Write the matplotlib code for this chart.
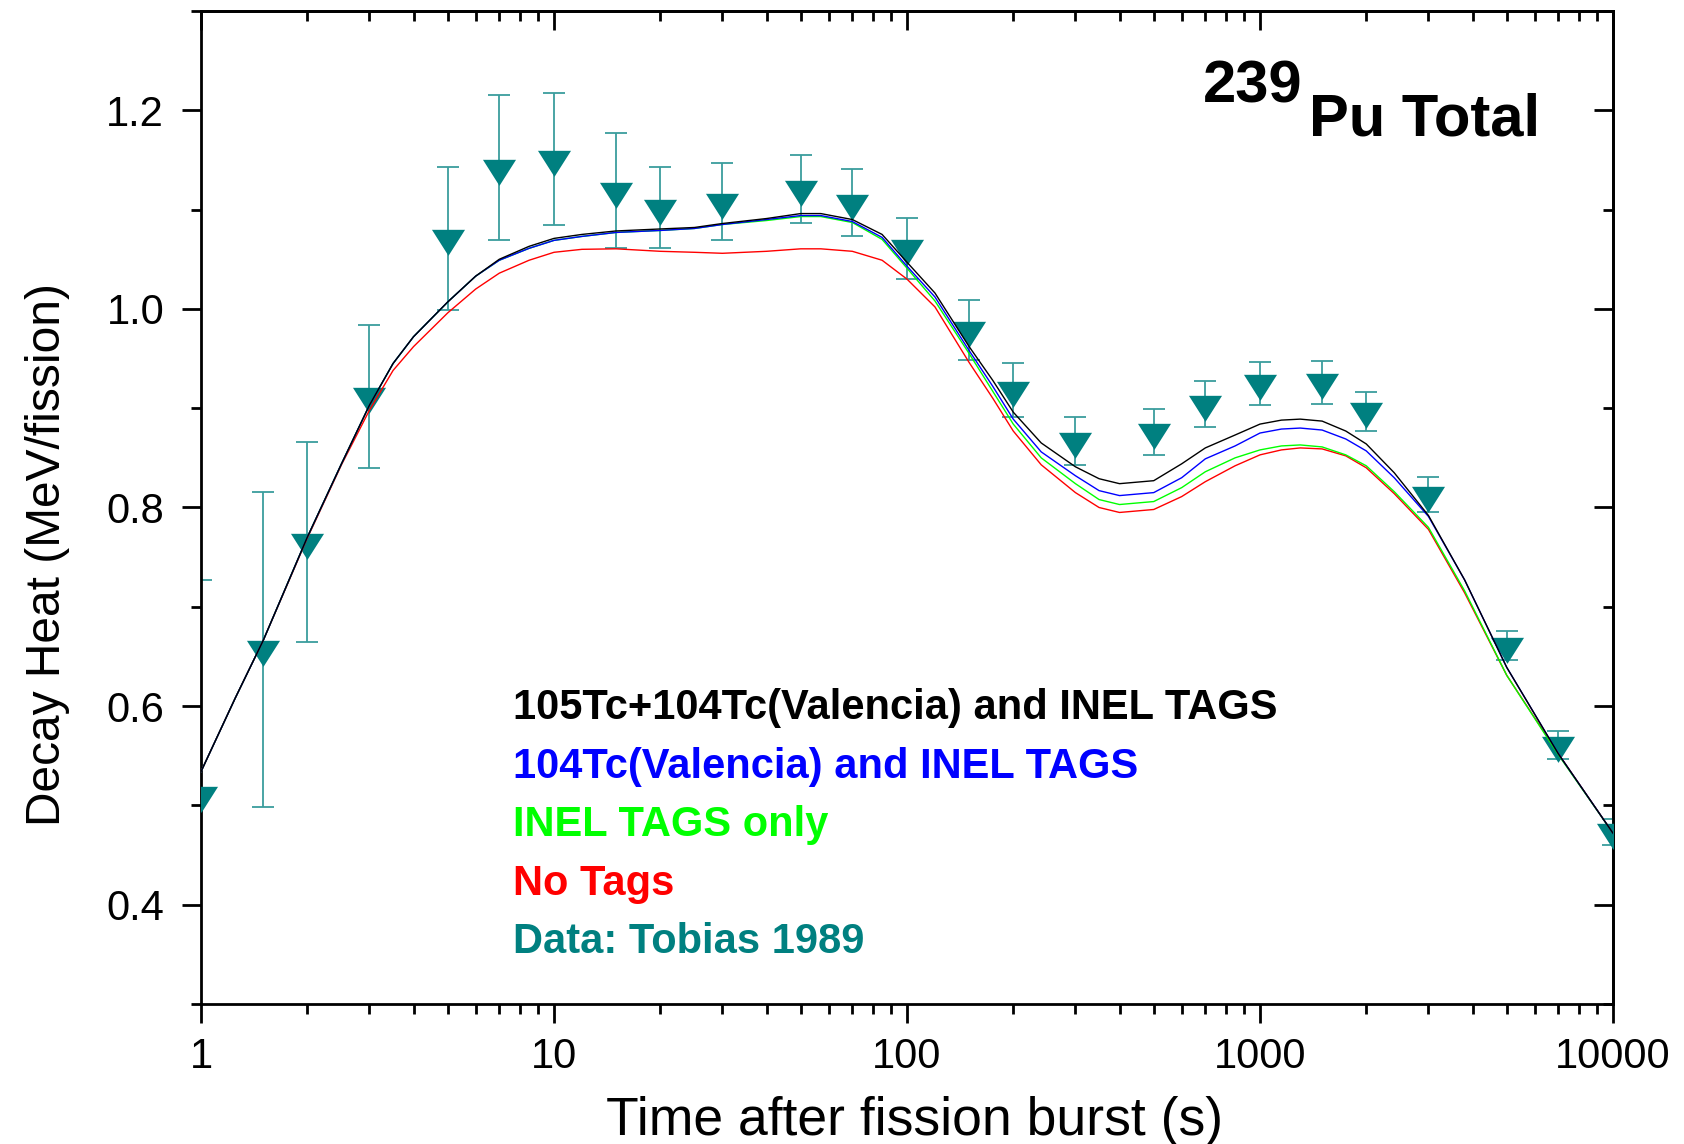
import numpy as np
import matplotlib
matplotlib.use("Agg")
import matplotlib.pyplot as plt
from matplotlib import ticker

plt.rcParams['font.family'] = ['Liberation Sans', 'DejaVu Sans']

# ---------------- data ----------------
t_data = [1, 1.5, 2, 3, 5, 7, 10, 15, 20, 30, 50, 70, 100, 150, 200, 300,
          500, 700, 1000, 1500, 2000, 3000, 5000, 7000, 10000]
heat_data = [0.5105, 0.657, 0.765, 0.912, 1.071, 1.142, 1.151, 1.119, 1.102,
             1.108, 1.121, 1.107, 1.061, 0.979, 0.9185, 0.867, 0.876, 0.904,
             0.925, 0.926, 0.897, 0.813, 0.661, 0.561, 0.473]
heat_err = [0.216, 0.159, 0.1005, 0.072, 0.072, 0.073, 0.0665, 0.058, 0.041,
            0.039, 0.034, 0.034, 0.031, 0.030, 0.027, 0.0245, 0.023, 0.023,
            0.022, 0.0217, 0.0198, 0.018, 0.0148, 0.0144, 0.0133]

t_curve = [1, 1.25, 1.5, 2, 2.5, 3, 3.5, 4, 5, 6, 7, 8.5, 10, 12, 15, 20, 25,
           30, 40, 50, 57, 70, 85, 100, 120, 150, 175, 200, 240, 300, 350, 400,
           500, 600, 700, 850, 1000, 1150, 1300, 1500, 1750, 2000, 2400, 3000,
           3800, 5000, 7000, 10000]
tc105_tc104_inel = [0.534, 0.608, 0.666, 0.770, 0.844, 0.903, 0.945, 0.972,
                    1.007, 1.033, 1.050, 1.063, 1.071, 1.075, 1.0785, 1.0805,
                    1.082, 1.086, 1.091, 1.096, 1.096, 1.090, 1.075, 1.047,
                    1.016, 0.962, 0.928, 0.896, 0.865, 0.841, 0.829, 0.824,
                    0.827, 0.844, 0.860, 0.873, 0.884, 0.888, 0.889, 0.887,
                    0.877, 0.864, 0.835, 0.792, 0.727, 0.639, 0.552, 0.472]
tc104_inel = [0.534, 0.608, 0.666, 0.770, 0.844, 0.903, 0.945, 0.972, 1.007,
              1.033, 1.049, 1.061, 1.069, 1.073, 1.077, 1.079, 1.081, 1.085,
              1.090, 1.094, 1.094, 1.088, 1.072, 1.043, 1.012, 0.958, 0.922,
              0.889, 0.856, 0.832, 0.817, 0.812, 0.815, 0.830, 0.849, 0.862,
              0.875, 0.879, 0.880, 0.878, 0.869, 0.857, 0.830, 0.791, 0.727,
              0.639, 0.552, 0.472]
inel_only = [0.534, 0.608, 0.666, 0.770, 0.844, 0.903, 0.945, 0.972, 1.007,
             1.033, 1.049, 1.061, 1.069, 1.073, 1.077, 1.079, 1.081, 1.085,
             1.089, 1.093, 1.093, 1.087, 1.070, 1.041, 1.008, 0.955, 0.917,
             0.884, 0.850, 0.824, 0.808, 0.803, 0.806, 0.820, 0.836, 0.850,
             0.858, 0.862, 0.863, 0.861, 0.853, 0.842, 0.816, 0.780, 0.716,
             0.631, 0.551, 0.472]
no_tags = [0.534, 0.608, 0.666, 0.769, 0.843, 0.898, 0.938, 0.962, 0.996,
           1.020, 1.036, 1.049, 1.057, 1.060, 1.0605, 1.058, 1.057, 1.056,
           1.058, 1.0605, 1.0605, 1.058, 1.049, 1.030, 1.002, 0.946, 0.910,
           0.877, 0.843, 0.815, 0.800, 0.795, 0.798, 0.811, 0.826, 0.842,
           0.853, 0.858, 0.860, 0.859, 0.852, 0.840, 0.814, 0.778, 0.714,
           0.631, 0.552, 0.472]

legend_lines = ["105Tc+104Tc(Valencia) and INEL TAGS",
                "104Tc(Valencia) and INEL TAGS",
                "INEL TAGS only",
                "No Tags",
                "Data: Tobias 1989"]

# ---------------- style ----------------
TEAL = '#008080'
ERRC = '#3a9d9d'
GREEN = '#00ff00'

fig = plt.figure(figsize=(16.84, 11.44), dpi=100)
ax = fig.add_axes([201 / 1684, 1 - 1004 / 1144, 1412 / 1684, 993 / 1144])

# downward triangle with its centroid at the data point
h = 1.576
tri = [(-1, h / 3), (1, h / 3), (0, -2 * h / 3), (-1, h / 3)]

ax.errorbar(t_data, heat_data, yerr=heat_err, fmt='none', ecolor=ERRC,
            elinewidth=1.3, capsize=8, capthick=1.3, zorder=2)
ax.plot(t_data, heat_data, linestyle='none', marker=tri, markersize=25,
        color=TEAL, markeredgewidth=0, zorder=3)

ax.plot(t_curve, no_tags, color='#ff0000', lw=1.0, zorder=4)
ax.plot(t_curve, inel_only, color=GREEN, lw=1.0, zorder=5)
ax.plot(t_curve, tc104_inel, color='#0000ff', lw=1.0, zorder=6)
ax.plot(t_curve, tc105_tc104_inel, color='#000000', lw=1.0, zorder=7)

ax.set_xscale('log')
ax.set_xlim(1, 10000)
ax.set_ylim(0.3, 1.3)

ax.xaxis.set_major_locator(ticker.LogLocator(base=10, numticks=10))
ax.xaxis.set_minor_locator(ticker.LogLocator(base=10, subs=np.arange(2, 10), numticks=50))
ax.xaxis.set_major_formatter(ticker.FuncFormatter(lambda v, p: f'{v:g}'))
ax.xaxis.set_minor_formatter(ticker.NullFormatter())
ax.yaxis.set_major_locator(ticker.MultipleLocator(0.2))
ax.yaxis.set_minor_locator(ticker.MultipleLocator(0.1))
ax.yaxis.set_major_formatter(ticker.FormatStrFormatter('%.1f'))

for sp in ax.spines.values():
    sp.set_linewidth(2.0)

ax.tick_params(which='major', direction='out', length=13.5, width=2.0,
               labelsize=30, top=False, right=False)
ax.tick_params(which='minor', direction='out', length=7.5, width=2.0,
               top=False, right=False)
ax.tick_params(axis='x', which='major', pad=10)
ax.tick_params(axis='y', which='major', pad=13)

# inward ticks on top and right
secx = ax.secondary_xaxis('top')
secx.xaxis.set_major_locator(ticker.LogLocator(base=10, numticks=10))
secx.xaxis.set_minor_locator(ticker.LogLocator(base=10, subs=np.arange(2, 10), numticks=50))
secx.tick_params(which='major', direction='in', length=13.5, width=2.0, labeltop=False)
secx.tick_params(which='minor', direction='in', length=7.5, width=2.0, labeltop=False)
secx.spines['top'].set_linewidth(2.0)

secy = ax.secondary_yaxis('right')
secy.yaxis.set_major_locator(ticker.MultipleLocator(0.2))
secy.yaxis.set_minor_locator(ticker.MultipleLocator(0.1))
secy.tick_params(which='major', direction='in', length=13.5, width=2.0, labelright=False)
secy.tick_params(which='minor', direction='in', length=7.5, width=2.0, labelright=False)
secy.spines['right'].set_linewidth(2.0)

ax.set_xlabel('Time after fission burst (s)', fontsize=38.5)
ax.set_ylabel('Decay Heat (MeV/fission)', fontsize=34.5)
ax.xaxis.set_label_coords(0.5057, -0.093)
ax.yaxis.set_label_coords(-0.093, 0.453)

# title
ax.text(0.7096, 0.908, '239', transform=ax.transAxes, fontsize=43,
        fontweight='bold', ha='left', va='baseline')
ax.text(0.785, 0.875, 'Pu Total', transform=ax.transAxes, fontsize=43,
        fontweight='bold', ha='left', va='baseline')

# colored legend text
leg_colors = ['#000000', '#0000ff', GREEN, '#ff0000', TEAL]
leg_y = [0.287, 0.228, 0.169, 0.110, 0.0514]
for txt, c, y in zip(legend_lines, leg_colors, leg_y):
    ax.text(0.221, y, txt, transform=ax.transAxes, fontsize=30,
            fontweight='bold', color=c, ha='left', va='baseline')

fig.savefig('out.png', dpi=100)
